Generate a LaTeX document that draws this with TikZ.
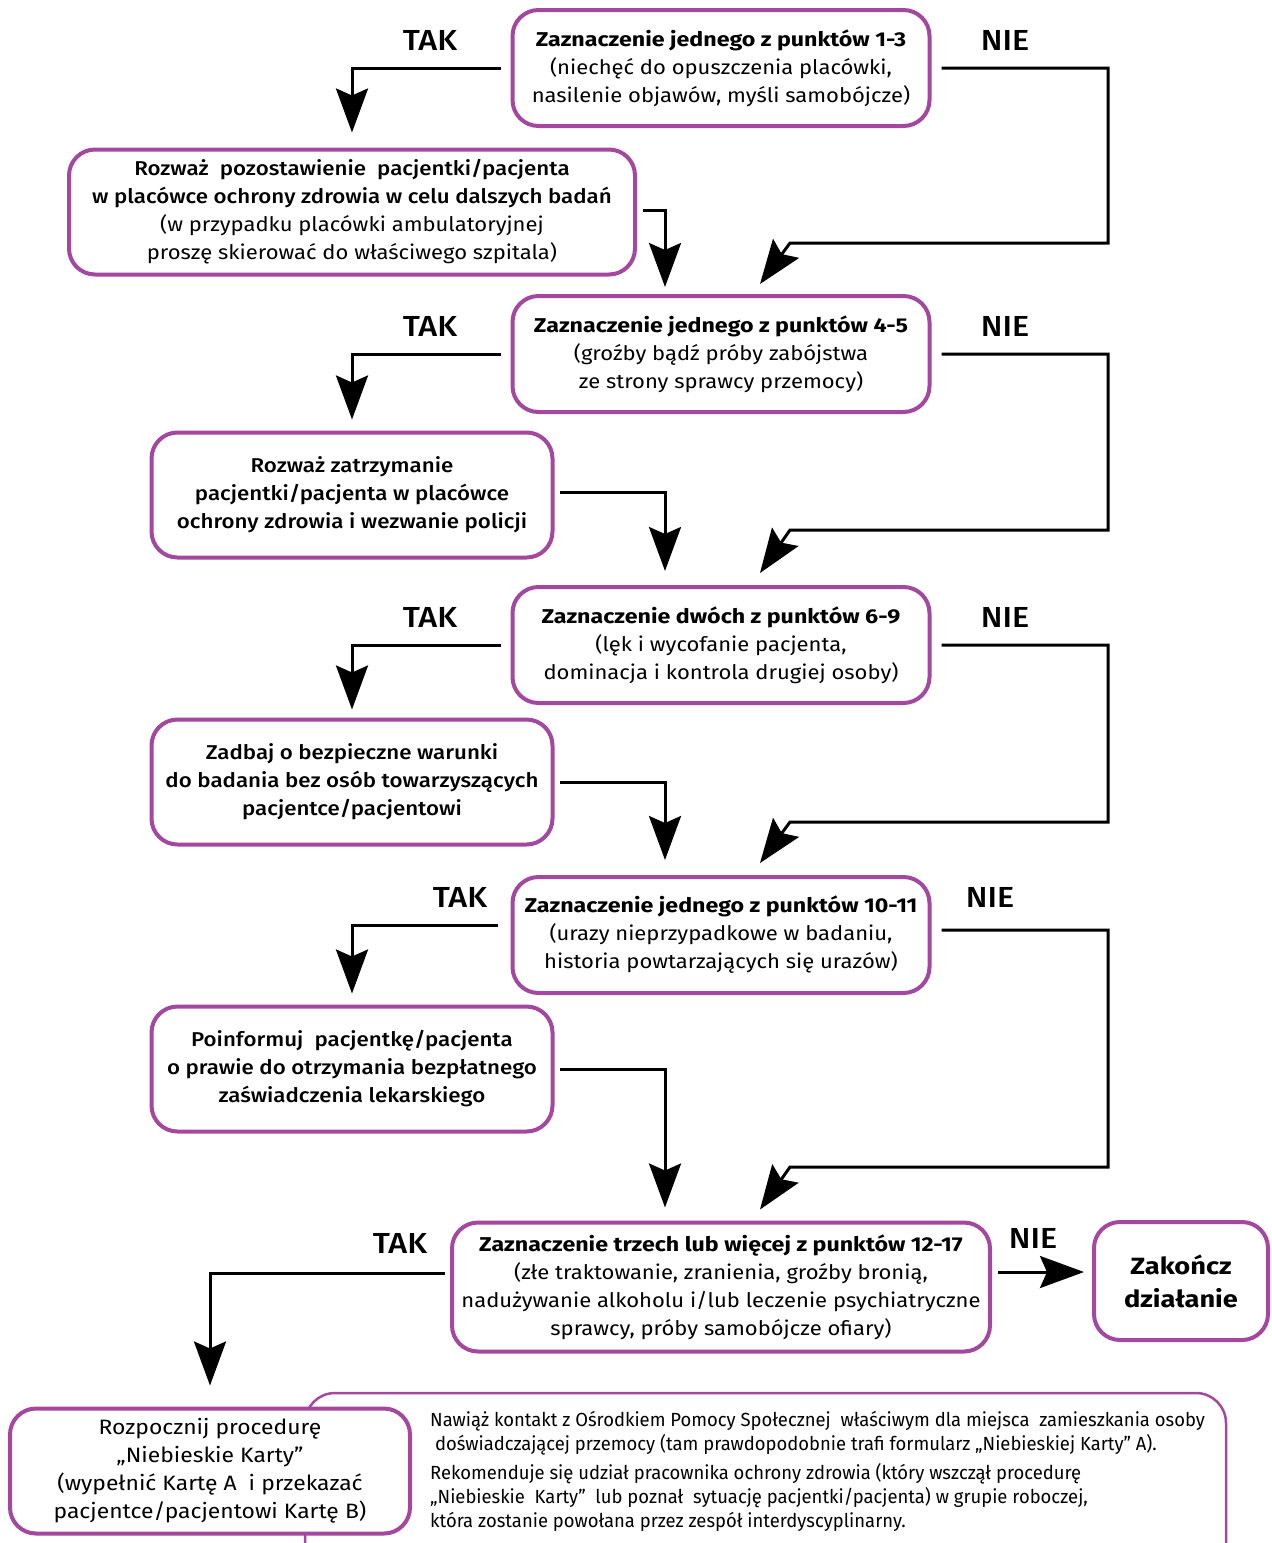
\documentclass[tikz,border=0pt]{standalone}
\usepackage{fontspec}
\setmainfont{Fira Sans}[FakeStretch=1.1]
\newfontfamily\medfont{Fira Sans Medium}[FakeStretch=1.115]
\newfontfamily\titlefont{Fira Sans Bold}[FakeStretch=1.16]
\newfontfamily\notefont{Fira Sans}[FakeStretch=0.97]
\usetikzlibrary{arrows.meta}
\definecolor{kartapurple}{RGB}{163,72,158}

\begin{document}
\begin{tikzpicture}[x=1pt,y=-1pt,
    box/.style={draw=kartapurple,line width=4pt,rounded corners=26pt,fill=white,align=center,inner sep=0pt,font=\fontsize{20}{28}\selectfont},
    check/.style={box,minimum width=417pt,minimum height=116pt},
    advice/.style={box,minimum width=401pt,minimum height=125pt,font=\fontsize{20}{28}\selectfont\medfont},
    flow/.style={line width=3pt,-{Stealth[length=44pt,width=32pt,inset=7pt]}},
    answer/.style={font=\fontsize{29}{29}\selectfont\medfont}]
    \useasboundingbox (0,0) rectangle (1272,1543);
    \clip (0,0) rectangle (1272,1543);

    \node[check] (q1) at (721,68) {{\titlefont Zaznaczenie jednego z punktów 1-3}\\(niechęć do opuszczenia placówki,\\nasilenie objawów, myśli samobójcze)};
    \node[box,minimum width=566pt,minimum height=125pt] (a1) at (352,212) {{\medfont Rozważ\ \ pozostawienie\ \ pacjentki/pacjenta}\\{\medfont w placówce ochrony zdrowia w celu dalszych badań}\\(w przypadku placówki ambulatoryjnej\\proszę skierować do właściwego szpitala)};
    \node[check] (q2) at (721,354) {{\titlefont Zaznaczenie jednego z punktów 4-5}\\(groźby bądź próby zabójstwa\\ze strony sprawcy przemocy)};
    \node[advice] (a2) at (352,495) {Rozważ zatrzymanie\\pacjentki/pacjenta w placówce\\ochrony zdrowia i wezwanie policji};
    \node[check] (q3) at (721,645) {{\titlefont Zaznaczenie dwóch z punktów 6-9}\\(lęk i wycofanie pacjenta,\\dominacja i kontrola drugiej osoby)};
    \node[advice] (a3) at (352,782) {Zadbaj o bezpieczne warunki\\do badania bez osób towarzyszących\\pacjentce/pacjentowi};
    \node[check] (q4) at (721,935) {{\titlefont Zaznaczenie jednego z punktów 10-11}\\(urazy nieprzypadkowe w badaniu,\\historia powtarzających się urazów)};
    \node[advice] (a4) at (352,1069) {Poinformuj\ \ pacjentkę/pacjenta\\o prawie do otrzymania bezpłatnego\\zaświadczenia lekarskiego};
    \node[box,minimum width=538pt,minimum height=129pt] (q5) at (721,1287) {{\titlefont Zaznaczenie trzech lub więcej z punktów 12-17}\\(złe traktowanie, zranienia, groźby bronią,\\nadużywanie alkoholu i/lub leczenie psychiatryczne\\sprawcy, próby samobójcze ofiary)};
    \node[box,minimum width=174pt,minimum height=118pt,font=\fontsize{23.5}{33}\selectfont\titlefont] (stop) at (1181,1281) {Zakończ\\działanie};

    \draw[kartapurple,line width=2.5pt,rounded corners=30pt] (305,1393) rectangle (1226,1600);
    \node[box,minimum width=400pt,minimum height=125pt,font=\fontsize{20.8}{28}\selectfont] (start) at (210,1471) {Rozpocznij procedurę\\„Niebieskie Karty”\\(wypełnić Kartę A\ \ i przekazać\\pacjentce/pacjentowi Kartę B)};
    \node[anchor=north west,align=left,inner sep=0pt,font=\fontsize{19}{24}\selectfont\notefont] (note) at (430,1411) {Nawiąż kontakt z Ośrodkiem Pomocy Społecznej\ \ właściwym dla miejsca\ \ zamieszkania osoby\\\ doświadczającej przemocy (tam prawdopodobnie trafi formularz „Niebieskiej Karty” A).\\[5pt]Rekomenduje się udział pracownika ochrony zdrowia (który wszczął procedurę\\„Niebieskie\ \ Karty”\ \ lub poznał\ \ sytuację pacjentki/pacjenta) w grupie roboczej,\\która zostanie powołana przez zespół interdyscyplinarny.};

    \node[answer] (tak1) at (430,40) {TAK};
    \node[answer] (nie1) at (1005,40) {NIE};
    \node[answer] (tak2) at (430,326) {TAK};
    \node[answer] (nie2) at (1005,326) {NIE};
    \node[answer] (tak3) at (430,617) {TAK};
    \node[answer] (nie3) at (1005,617) {NIE};
    \node[answer] (tak4) at (460,897) {TAK};
    \node[answer] (nie4) at (990,897) {NIE};
    \node[answer] (tak5) at (400,1243) {TAK};
    \node[answer] (nie5) at (1033,1238) {NIE};

    \draw[flow,shorten >=15pt] ([xshift=-10pt]q1.west) -| (a1.north);
    \draw[flow] ([xshift=10pt]q1.east) -| (1108,243) -- (790,243) -- ([xshift=39pt,yshift=10pt]q2.north);
    \draw[flow] ([xshift=6pt,yshift=2pt]a1.east) -| ([xshift=-56pt,yshift=7pt]q2.north);
    \draw[flow,shorten >=11pt] ([xshift=-10pt]q2.west) -| (a2.north);
    \draw[flow] ([xshift=10pt]q2.east) -| (1108,530) -- (790,530) -- ([xshift=39pt,yshift=12pt]q3.north);
    \draw[flow] ([xshift=5pt,yshift=3pt]a2.east) -| ([xshift=-56pt,yshift=14pt]q3.north);
    \draw[flow,shorten >=8pt] ([xshift=-10pt]q3.west) -| (a3.north);
    \draw[flow] ([xshift=10pt]q3.east) -| (1108,822) -- (790,822) -- ([xshift=39pt,yshift=12pt]q4.north);
    \draw[flow] ([xshift=5pt]a3.east) -| ([xshift=-56pt,yshift=15pt]q4.north);
    \draw[flow,shorten >=11pt] ([xshift=-13pt,yshift=10pt]q4.west) -| (a4.north);
    \draw[flow] ([xshift=10pt,yshift=5pt]q4.east) -| (1108,1167) -- (790,1167) -- ([xshift=39pt,yshift=11pt]q5.north);
    \draw[flow] ([xshift=5pt]a4.east) -| ([xshift=-56pt,yshift=13pt]q5.north);
    \draw[flow,shorten >=21pt] ([xshift=-5pt,yshift=14pt]q5.west) -| (start.north);
    \draw[flow,shorten <=6pt,shorten >=8pt] ([yshift=15pt]q5.east) -- (stop.west |- 0,1272);
\end{tikzpicture}
\end{document}
